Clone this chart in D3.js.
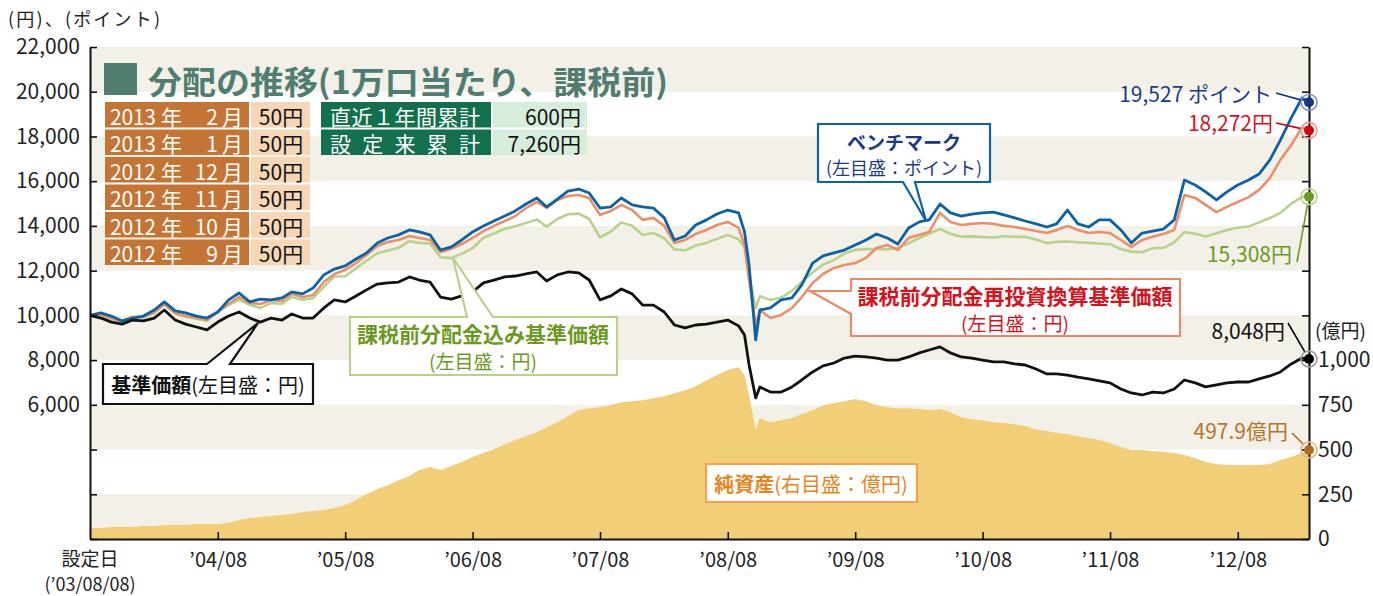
<!DOCTYPE html>
<html lang="ja">
<head>
<meta charset="utf-8">
<script src="https://cdn.jsdelivr.net/npm/d3@7"></script>
<style>
  body { margin: 0; background: #fff; }
  svg { display: block; font-family: "Noto Sans CJK JP", "Noto Sans", sans-serif; }
</style>
</head>
<body>
<div id="chart"></div>
<script>
/**
 * distribution history chart (NAV, benchmark, net assets)
 */

// monthly observation dates (plus two extra points in the 2008 crash)
const dates = [
  '2003-08-08', '2003-09-08', '2003-10-08', '2003-11-08', '2003-12-08',
  '2004-01-08', '2004-02-08', '2004-03-08', '2004-04-08', '2004-05-08', '2004-06-08', '2004-07-08', '2004-08-08', '2004-09-08', '2004-10-08', '2004-11-08', '2004-12-08',
  '2005-01-08', '2005-02-08', '2005-03-08', '2005-04-08', '2005-05-08', '2005-06-08', '2005-07-08', '2005-08-08', '2005-09-08', '2005-10-08', '2005-11-08', '2005-12-08',
  '2006-01-08', '2006-02-08', '2006-03-08', '2006-04-08', '2006-05-08', '2006-06-08', '2006-07-08', '2006-08-08', '2006-09-08', '2006-10-08', '2006-11-08', '2006-12-08',
  '2007-01-08', '2007-02-08', '2007-03-08', '2007-04-08', '2007-05-08', '2007-06-08', '2007-07-08', '2007-08-08', '2007-09-08', '2007-10-08', '2007-11-08', '2007-12-08',
  '2008-01-08', '2008-02-08', '2008-03-08', '2008-04-08', '2008-05-08', '2008-06-08', '2008-07-08', '2008-08-08', '2008-09-08', '2008-09-25', '2008-10-08', '2008-10-27', '2008-11-08', '2008-12-08',
  '2009-01-08', '2009-02-08', '2009-03-08', '2009-04-08', '2009-05-08', '2009-06-08', '2009-07-08', '2009-08-08', '2009-09-08', '2009-10-08', '2009-11-08', '2009-12-08',
  '2010-01-08', '2010-02-08', '2010-03-08', '2010-04-08', '2010-05-08', '2010-06-08', '2010-07-08', '2010-08-08', '2010-09-08', '2010-10-08', '2010-11-08', '2010-12-08',
  '2011-01-08', '2011-02-08', '2011-03-08', '2011-04-08', '2011-05-08', '2011-06-08', '2011-07-08', '2011-08-08', '2011-09-08', '2011-10-08', '2011-11-08', '2011-12-08',
  '2012-01-08', '2012-02-08', '2012-03-08', '2012-04-08', '2012-05-08', '2012-06-08', '2012-07-08', '2012-08-08', '2012-09-08', '2012-10-08', '2012-11-08', '2012-12-08',
  '2013-01-08', '2013-02-08', '2013-02-28'
];

// 基準価額 (yen)
const navBase = [
  10000, 9880, 9700, 9610, 9790,
  9750, 9880, 10240, 9790, 9610, 9480, 9350, 9700, 9970, 10150, 9880, 9700,
  9880, 9790, 10060, 9880, 9880, 10330, 10690, 10600, 10870, 11140, 11400, 11450,
  11490, 11720, 11580, 11490, 10820, 10730, 10870, 11050, 11450, 11580, 11720, 11760,
  11850, 11940, 11540, 11810, 11940, 11900, 11580, 10690, 10870, 11180, 10960, 10460,
  10460, 10150, 9570, 9440, 9570, 9610, 9700, 9790, 9530, 9120, 7780, 6310, 6800, 6570,
  6570, 6800, 7110, 7470, 7740, 7870, 8090, 8180, 8140, 8090, 8000, 8000,
  8140, 8320, 8450, 8590, 8320, 8140, 8090, 8000, 7920, 7920, 7830, 7780,
  7600, 7380, 7380, 7330, 7240, 7160, 7070, 6980, 6710, 6530, 6440, 6570,
  6530, 6710, 7110, 6980, 6800, 6890, 6980, 7020, 7020, 7160, 7290, 7470,
  7830, 8090, 8048
];

// 課税前分配金込み基準価額 (yen)
const navWithDist = [
  10000, 9910, 9770, 9710, 9920,
  9920, 10080, 10480, 10070, 9940, 9850, 9760, 10150, 10470, 10690, 10470, 10330,
  10560, 10510, 10820, 10700, 10770, 11280, 11740, 11750, 12100, 12440, 12780, 12900,
  13020, 13320, 13240, 13210, 12600, 12560, 12760, 13000, 13470, 13660, 13870, 13980,
  14130, 14290, 13970, 14310, 14520, 14550, 14310, 13490, 13750, 14150, 14010, 13590,
  13680, 13450, 12950, 12910, 13120, 13240, 13420, 13590, 13410, 13050, 11750, 10320, 10850, 10700,
  10790, 11100, 11490, 11920, 12270, 12470, 12770, 12930, 12960, 12970, 12950, 13020,
  13220, 13470, 13660, 13860, 13650, 13520, 13530, 13500, 13480, 13540, 13510, 13510,
  13390, 13230, 13290, 13300, 13270, 13240, 13210, 13180, 12970, 12850, 12820, 13000,
  13020, 13260, 13720, 13650, 13530, 13670, 13820, 13920, 13970, 14160, 14350, 14580,
  14990, 15300, 15308
];

// 課税前分配金再投資換算基準価額 (yen)
const navReinvest = [
  10000, 10020, 9880, 9750, 9930,
  9930, 10150, 10510, 10110, 9970, 9880, 9790, 10150, 10510, 10820, 10550, 10510,
  10690, 10640, 10960, 10820, 10910, 11490, 11850, 12030, 12340, 12700, 13100, 13280,
  13370, 13550, 13460, 13370, 12830, 12970, 13190, 13460, 13770, 14000, 14220, 14440,
  14800, 15070, 14800, 15160, 15340, 15380, 15250, 14490, 14670, 14940, 14710, 14270,
  14360, 14000, 13240, 13370, 13640, 13820, 14040, 14180, 13910, 13150, 11580, 9570, 10240, 9880,
  10020, 10330, 10820, 11450, 11850, 12120, 12250, 12340, 12570, 13010, 13150, 12920,
  13460, 13600, 13730, 14580, 14180, 14040, 14090, 14130, 14090, 14000, 13950, 13860,
  13770, 13680, 13820, 14000, 13820, 13680, 13730, 13680, 13370, 13060, 13370, 13510,
  13640, 13820, 15380, 15250, 14940, 14620, 14850, 15070, 15290, 15610, 16140, 16950,
  17620, 18400, 18272
];

// ベンチマーク (points)
const benchmark = [
  10000, 10110, 9970, 9750, 9880,
  9970, 10240, 10600, 10200, 10110, 9970, 9880, 10150, 10690, 11000, 10600, 10730,
  10690, 10780, 11050, 10960, 11220, 11810, 12070, 12210, 12520, 12790, 13240, 13460,
  13600, 13820, 13730, 13600, 12920, 13060, 13370, 13730, 14000, 14220, 14440, 14670,
  14980, 15250, 14850, 15200, 15560, 15650, 15470, 14800, 14850, 15250, 14940, 14850,
  14800, 14360, 13370, 13550, 14040, 14270, 14530, 14710, 14580, 13730, 12250, 8900, 10240, 10330,
  10690, 10780, 11360, 12340, 12660, 12790, 12920, 13150, 13370, 13640, 13460, 13190,
  13910, 14180, 14270, 14980, 14580, 14440, 14530, 14580, 14620, 14490, 14360, 14220,
  14090, 13950, 14090, 14710, 14090, 13950, 14270, 14270, 13820, 13240, 13680, 13770,
  13860, 14270, 16050, 15830, 15520, 15160, 15520, 15830, 16050, 16320, 16950, 17840,
  18830, 19720, 19527
];

// 純資産 (億円)
const netAssets = [
  61, 61, 67, 67, 67,
  73, 73, 78, 78, 78, 84, 84, 84, 89, 106, 117, 123,
  128, 134, 140, 151, 156, 162, 173, 190, 218, 251, 279, 301,
  329, 352, 385, 402, 385, 408, 430, 458, 480, 502, 530, 553,
  575, 597, 625, 653, 687, 720, 731, 737, 748, 765, 770, 776,
  787, 798, 815, 832, 854, 888, 916, 944, 960, 916, 804, 609, 676, 653,
  664, 676, 698, 720, 748, 759, 770, 782, 770, 748, 737, 731,
  731, 726, 720, 726, 709, 681, 670, 664, 653, 648, 642, 631,
  614, 603, 592, 586, 575, 564, 553, 536, 514, 497, 497, 491,
  486, 480, 469, 452, 430, 419, 413, 413, 413, 413, 419, 441,
  458, 480, 497.9
];

// axis ticks
const leftTicks = [0, 2000, 4000, 6000, 8000, 10000, 12000, 14000, 16000, 18000, 20000, 22000];
const leftLabelMin = 6000;
const rightTicks = [0, 250, 500, 750, 1000];
const xTickDates = ['2004-08-08', '2005-08-08', '2006-08-08', '2007-08-08', '2008-08-08', '2009-08-08', '2010-08-08', '2011-08-08', '2012-08-08'];
const xTickLabels = ['’04/08', '’05/08', '’06/08', '’07/08', '’08/08', '’09/08', '’10/08', '’11/08', '’12/08'];

// distribution table (1万口当たり、課税前)
const distYears = ['2013', '2013', '2012', '2012', '2012', '2012'];
const distMonths = ['2', '1', '12', '11', '10', '9'];
const distAmounts = [50, 50, 50, 50, 50, 50];
const summaryLabels = ['直近１年間累計', '設 定 来 累 計'];
const summaryValues = ['600円', '7,260円'];


/**
 * class drawing the whole chart into an svg
 */
class DistributionChart {

  constructor(_config) {
    this.config = {
      parentElement: _config.parentElement,
      width: 1373,
      height: 596,
      plot: { left: 90, right: 1309, top: 47, bottom: 539 }
    };
    this.colors = {
      band: '#f3f0e7',
      assets: '#f2cf76',
      withDist: '#b8d18d',
      reinvest: '#ea8f6a',
      bench: '#0b62a6',
      nav: '#111111',
      navy: '#1b3c85',
      red: '#d6121c',
      green: '#6b9a22',
      orange: '#e8841c',
      brown: '#b8742c',
      teal: '#4f7d70'
    };
    this.initVis();
  }

  initVis() {
    let vis = this;
    const p = vis.config.plot;
    const parseDate = d3.timeParse('%Y-%m-%d');

    vis.svg = d3.select(vis.config.parentElement).append('svg')
      .attr('width', vis.config.width)
      .attr('height', vis.config.height);

    // join the series arrays into row objects
    vis.rows = dates.map((d, i) => ({
      date: parseDate(d),
      nav: navBase[i],
      withDist: navWithDist[i],
      reinvest: navReinvest[i],
      bench: benchmark[i],
      assets: netAssets[i]
    }));

    vis.x = d3.scaleTime()
      .domain(d3.extent(vis.rows, d => d.date))
      .range([p.left, p.right]);

    // left axis: yen / points, right axis: 億円 (1,000 lines up with 8,000)
    vis.yLeft = d3.scaleLinear().domain([0, 22000]).range([p.bottom, p.top]);
    vis.yRight = d3.scaleLinear().domain([0, 1000]).range([p.bottom, vis.yLeft(8000)]);

    vis.drawBands();
    vis.drawSeries();
    vis.drawAxes();
    vis.drawCallouts();
    vis.drawEndMarkers();
    vis.drawTable();
  }

  /**
   * alternating background stripes every 2,000
   */
  drawBands() {
    let vis = this;
    const p = vis.config.plot;
    vis.svg.append('g').selectAll('rect')
      .data(d3.range(0, 22000, 4000))
      .join('rect')
      .attr('x', p.left)
      .attr('width', p.right - p.left)
      .attr('y', d => vis.yLeft(d + 2000))
      .attr('height', d => vis.yLeft(d) - vis.yLeft(d + 2000))
      .attr('fill', vis.colors.band);
  }

  drawSeries() {
    let vis = this;
    const p = vis.config.plot;

    const area = d3.area()
      .x(d => vis.x(d.date))
      .y0(p.bottom)
      .y1(d => vis.yRight(d.assets));

    vis.svg.append('path')
      .datum(vis.rows)
      .attr('d', area)
      .attr('fill', vis.colors.assets);

    const series = [
      { key: 'withDist', color: vis.colors.withDist, width: 2.6 },
      { key: 'reinvest', color: vis.colors.reinvest, width: 2.6 },
      { key: 'bench', color: vis.colors.bench, width: 2.8 },
      { key: 'nav', color: vis.colors.nav, width: 2.8 }
    ];

    series.forEach(s => {
      const line = d3.line()
        .x(d => vis.x(d.date))
        .y(d => vis.yLeft(d[s.key]));
      vis.svg.append('path')
        .datum(vis.rows)
        .attr('d', line)
        .attr('fill', 'none')
        .attr('stroke', s.color)
        .attr('stroke-width', s.width)
        .attr('stroke-linejoin', 'round');
    });
  }

  drawAxes() {
    let vis = this;
    const p = vis.config.plot;
    const fmt = d3.format(',');
    const parseDate = d3.timeParse('%Y-%m-%d');

    // left axis, ticks pointing into the plot
    const leftAxis = d3.axisLeft(vis.yLeft)
      .tickValues(leftTicks)
      .tickSize(-7)
      .tickSizeOuter(0)
      .tickPadding(10)
      .tickFormat(d => d >= leftLabelMin ? fmt(d) : '');

    const gl = vis.svg.append('g')
      .attr('transform', `translate(${p.left},0)`)
      .call(leftAxis);

    // right axis: tick marks on every 2,000 line, labels from the 億円 scale
    const rightMarks = d3.axisRight(vis.yLeft)
      .tickValues(leftTicks)
      .tickSize(-7)
      .tickSizeOuter(0)
      .tickFormat('');

    const gr = vis.svg.append('g')
      .attr('transform', `translate(${p.right},0)`)
      .call(rightMarks);

    const rightLabels = d3.axisRight(vis.yRight)
      .tickValues(rightTicks)
      .tickSize(0)
      .tickPadding(9)
      .tickFormat(fmt);

    const grl = vis.svg.append('g')
      .attr('transform', `translate(${p.right},0)`)
      .call(rightLabels);
    grl.select('.domain').remove();

    // bottom time axis
    const bottomAxis = d3.axisBottom(vis.x)
      .tickValues(xTickDates.map(parseDate))
      .tickSize(-7)
      .tickSizeOuter(0)
      .tickPadding(14)
      .tickFormat((d, i) => xTickLabels[i]);

    const gb = vis.svg.append('g')
      .attr('transform', `translate(0,${p.bottom})`)
      .call(bottomAxis);

    [gl, gr, grl, gb].forEach(g => {
      g.attr('font-family', null).attr('font-size', null);
      g.selectAll('text').attr('font-size', 21).attr('fill', '#222');
      g.selectAll('.tick line').attr('stroke', '#111').attr('stroke-width', 1.6);
      g.select('.domain').attr('stroke', '#111').attr('stroke-width', 2);
    });
    gb.selectAll('text').attr('font-size', 20);

    // axis captions
    vis.svg.append('text')
      .attr('x', 8).attr('y', 18)
      .attr('dominant-baseline', 'central')
      .attr('font-size', 18).attr('fill', '#222')
      .attr('textLength', 152).attr('lengthAdjust', 'spacing')
      .text('(円)、(ポイント)');

    vis.svg.append('text')
      .attr('x', 1315).attr('y', 329)
      .attr('dominant-baseline', 'central')
      .attr('font-size', 19).attr('fill', '#222')
      .text('(億円)');

    const start = vis.svg.append('g').attr('fill', '#222').attr('text-anchor', 'middle');
    start.append('text').attr('x', p.left).attr('y', 557)
      .attr('dominant-baseline', 'central').attr('font-size', 19).text('設定日');
    start.append('text').attr('x', p.left).attr('y', 583)
      .attr('dominant-baseline', 'central').attr('font-size', 18).text('(’03/08/08)');
  }

  /**
   * builds a box outline with a pointer on one of its sides
   */
  calloutPath(b, side, base, tip) {
    const [x0, y0, x1, y1] = b;
    let d = `M${x0},${y0}`;
    if (side === 'top') d += `L${base[0]},${y0}L${tip[0]},${tip[1]}L${base[1]},${y0}`;
    d += `L${x1},${y0}L${x1},${y1}`;
    if (side === 'bottom') d += `L${base[1]},${y1}L${tip[0]},${tip[1]}L${base[0]},${y1}`;
    d += `L${x0},${y1}`;
    if (side === 'left') d += `L${x0},${base[1]}L${tip[0]},${tip[1]}L${x0},${base[0]}`;
    return d + 'Z';
  }

  drawCallouts() {
    let vis = this;
    const c = vis.colors;

    const callouts = [
      { box: [818, 124, 990, 182], side: 'bottom', base: [903, 915], tip: [926, 221], stroke: c.bench, color: c.navy,
        cx: 904, lines: [{ y: 141, size: 19, parts: [['ベンチマーク', 700]] }, { y: 167, size: 18, parts: [['(左目盛：ポイント)', 400]] }] },
      { box: [851, 279, 1180, 336], side: 'left', base: [291, 314], tip: [810, 291], stroke: '#e8896a', color: c.red,
        cx: 1015, lines: [{ y: 295, size: 21, parts: [['課税前分配金再投資換算基準価額', 700]] }, { y: 322, size: 19, parts: [['(左目盛：円)', 400]] }] },
      { box: [350, 317, 617, 375], side: 'top', base: [467, 493], tip: [453, 258], stroke: c.withDist, color: c.green,
        cx: 483, lines: [{ y: 333, size: 21, parts: [['課税前分配金込み基準価額', 700]] }, { y: 360, size: 19, parts: [['(左目盛：円)', 400]] }] },
      { box: [103, 364, 313, 404], side: 'top', base: [207, 230], tip: [258, 323], stroke: '#111', color: '#111',
        cx: 208, lines: [{ y: 384, size: 20, parts: [['基準価額', 700], ['(左目盛：円)', 400]] }] },
      { box: [706, 464, 917, 502], side: 'none', base: [0, 0], tip: [0, 0], stroke: '#f0a34c', color: c.orange,
        cx: 811, lines: [{ y: 483, size: 20, parts: [['純資産', 700], ['(右目盛：億円)', 400]] }] }
    ];

    callouts.forEach(o => {
      const g = vis.svg.append('g');
      g.append('path')
        .attr('d', vis.calloutPath(o.box, o.side, o.base, o.tip))
        .attr('fill', '#fff')
        .attr('stroke', o.stroke)
        .attr('stroke-width', 2.2)
        .attr('stroke-linejoin', 'miter');
      o.lines.forEach(l => {
        const t = g.append('text')
          .attr('x', o.cx).attr('y', l.y)
          .attr('text-anchor', 'middle')
          .attr('dominant-baseline', 'central')
          .attr('font-size', l.size)
          .attr('fill', o.color);
        l.parts.forEach(pt => t.append('tspan').attr('font-weight', pt[1]).text(pt[0]));
      });
    });
  }

  /**
   * dots on the last observation with value labels
   */
  drawEndMarkers() {
    let vis = this;
    const c = vis.colors;
    const last = vis.rows[vis.rows.length - 1];
    const fmt = d3.format(',');
    const ex = vis.x(last.date);

    const markers = [
      { y: vis.yLeft(last.bench), dot: '#13357a', ring: '#8593c6', color: c.navy, text: fmt(last.bench) + ' ポイント', lx: 1272, ly: 93, from: [1276, 93] },
      { y: vis.yLeft(last.reinvest), dot: '#d7000f', ring: '#ee9a7e', color: c.red, text: fmt(last.reinvest) + '円', lx: 1273, ly: 122, from: [1276, 123] },
      { y: vis.yLeft(last.withDist), dot: '#6b9a1f', ring: '#b8d18d', color: c.green, text: fmt(last.withDist) + '円', lx: 1292, ly: 253, from: [1297, 262] },
      { y: vis.yLeft(last.nav), dot: '#000', ring: '#9a9a9a', color: '#111', text: fmt(last.nav) + '円', lx: 1285, ly: 330, from: [1288, 323] },
      { y: vis.yRight(last.assets), dot: '#b0691f', ring: '#e3b98c', color: c.brown, text: d3.format('.1f')(last.assets) + '億円', lx: 1288, ly: 430, from: [1292, 433] }
    ];

    markers.forEach(m => {
      // stop the leader line on the ring
      const dx = ex - m.from[0], dy = m.y - m.from[1];
      const len = Math.hypot(dx, dy);
      const r = 8;
      vis.svg.append('line')
        .attr('x1', m.from[0]).attr('y1', m.from[1])
        .attr('x2', ex - dx / len * r).attr('y2', m.y - dy / len * r)
        .attr('stroke', m.dot).attr('stroke-width', 1.6);
      vis.svg.append('circle')
        .attr('cx', ex).attr('cy', m.y).attr('r', r)
        .attr('fill', 'none').attr('stroke', m.ring).attr('stroke-width', 1.6);
      vis.svg.append('circle')
        .attr('cx', ex).attr('cy', m.y).attr('r', 5)
        .attr('fill', m.dot);
      vis.svg.append('text')
        .attr('x', m.lx).attr('y', m.ly)
        .attr('text-anchor', 'end')
        .attr('dominant-baseline', 'central')
        .attr('font-size', 21)
        .attr('fill', m.color)
        .text(m.text);
    });
  }

  /**
   * title and distribution table in the upper left
   */
  drawTable() {
    let vis = this;
    const c = vis.colors;

    vis.svg.append('rect')
      .attr('x', 104).attr('y', 63).attr('width', 33).attr('height', 32)
      .attr('fill', c.teal);
    vis.svg.append('text')
      .attr('x', 148).attr('y', 80)
      .attr('dominant-baseline', 'central')
      .attr('font-size', 32).attr('font-weight', 700)
      .attr('fill', c.teal)
      .attr('textLength', 520).attr('lengthAdjust', 'spacingAndGlyphs')
      .text('分配の推移(1万口当たり、課税前)');

    const rowTop = i => 102 + i * 27.5;
    const rowH = 25.5;

    const rows = vis.svg.append('g').selectAll('g')
      .data(distYears.map((y, i) => ({ year: y, month: distMonths[i], amount: distAmounts[i], i })))
      .join('g')
      .attr('transform', d => `translate(0,${rowTop(d.i)})`);

    rows.append('rect').attr('x', 105).attr('width', 144).attr('height', rowH).attr('fill', '#c47535');
    rows.append('rect').attr('x', 251).attr('width', 59).attr('height', rowH).attr('fill', '#f5d6b6');

    const txt = (sel, x, anchor, fill, f) => sel.append('text')
      .attr('x', x).attr('y', rowH / 2 + 1)
      .attr('text-anchor', anchor)
      .attr('dominant-baseline', 'central')
      .attr('font-size', 21)
      .attr('fill', fill)
      .text(f);

    txt(rows, 110, 'start', '#fff', d => d.year)
      .attr('textLength', 46).attr('lengthAdjust', 'spacing');
    txt(rows, 161, 'start', '#fff', '年');
    txt(rows, 218, 'end', '#fff', d => d.month);
    txt(rows, 222, 'start', '#fff', '月');
    txt(rows, 281, 'middle', '#111', d => d.amount + '円');

    const sums = vis.svg.append('g').selectAll('g')
      .data(summaryLabels.map((l, i) => ({ label: l, value: summaryValues[i], i })))
      .join('g')
      .attr('transform', d => `translate(0,${rowTop(d.i)})`);

    sums.append('rect').attr('x', 321).attr('width', 170).attr('height', rowH).attr('fill', '#13704f');
    sums.append('rect').attr('x', 493).attr('width', 94).attr('height', rowH).attr('fill', '#d7eddb');
    txt(sums, 330, 'start', '#fff', d => d.label)
      .attr('textLength', 150).attr('lengthAdjust', 'spacing');
    txt(sums, 581, 'end', '#111', d => d.value);
  }
}

const chart = new DistributionChart({ parentElement: '#chart' });
</script>
</body>
</html>
